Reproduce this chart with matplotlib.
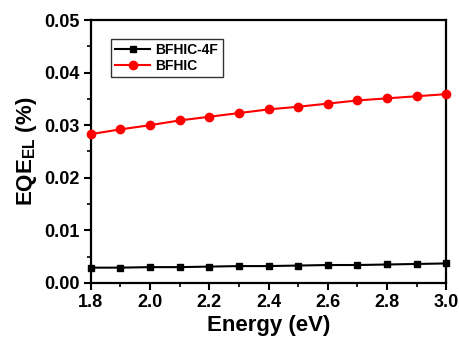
import numpy as np
import matplotlib

matplotlib.use("Agg")
import matplotlib.pyplot as plt
from matplotlib.ticker import MultipleLocator

plt.rcParams["font.family"] = ["Liberation Sans", "DejaVu Sans"]
plt.rcParams["font.weight"] = "bold"
plt.rcParams["mathtext.fontset"] = "custom"
plt.rcParams["mathtext.bf"] = "Liberation Sans:bold"
plt.rcParams["mathtext.rm"] = "Liberation Sans:bold"

energy = [1.8, 1.9, 2.0, 2.1, 2.2, 2.3, 2.4, 2.5, 2.6, 2.7, 2.8, 2.9, 3.0]
eqe_4f = [0.0029, 0.0029, 0.0030, 0.0030, 0.0031, 0.0032, 0.0032,
          0.0033, 0.0034, 0.0034, 0.0035, 0.0036, 0.0037]
eqe_bfhic = [0.0283, 0.0292, 0.0300, 0.0309, 0.0316, 0.0323, 0.0330,
             0.0335, 0.0341, 0.0347, 0.0351, 0.0355, 0.0359]

fig = plt.figure(figsize=(4.59, 3.45), dpi=100)
ax = fig.add_axes([0.198, 0.180, 0.774, 0.762])

ax.plot(energy, eqe_4f, color="black", marker="s", ms=5, lw=1.5,
        label="BFHIC-4F", clip_on=False, zorder=3)
ax.plot(energy, eqe_bfhic, color="red", marker="o", ms=6, lw=1.5,
        label="BFHIC", clip_on=False, zorder=3)

ax.set_xlim(1.8, 3.0)
ax.set_ylim(0, 0.05)
ax.xaxis.set_major_locator(MultipleLocator(0.2))
ax.xaxis.set_minor_locator(MultipleLocator(0.1))
ax.yaxis.set_major_locator(MultipleLocator(0.01))
ax.yaxis.set_minor_locator(MultipleLocator(0.005))
ax.xaxis.set_major_formatter(matplotlib.ticker.FormatStrFormatter("%.1f"))
ax.yaxis.set_major_formatter(matplotlib.ticker.FormatStrFormatter("%.2f"))

ax.tick_params(which="major", direction="out", length=5, width=1.5,
               labelsize=13, top=False, right=False, pad=3)
ax.tick_params(which="minor", direction="out", length=3, width=1.2,
               top=False, right=False)
for sp in ax.spines.values():
    sp.set_linewidth(1.6)

ax.set_xlabel("Energy (eV)", fontsize=16, fontweight="bold", labelpad=3)
ax.set_ylabel("EQE$_{\\mathbf{EL}}$ (%)", fontsize=16, fontweight="bold",
              labelpad=4)

leg = ax.legend(loc="upper left", bbox_to_anchor=(0.045, 0.945), fontsize=10,
                frameon=True, fancybox=False, edgecolor="black",
                handlelength=2.5, borderpad=0.3, labelspacing=0.15,
                handletextpad=0.4, borderaxespad=0.3)
leg.get_frame().set_linewidth(1.0)
for t in leg.get_texts():
    t.set_fontweight("bold")

plt.savefig("out.png", dpi=100)
